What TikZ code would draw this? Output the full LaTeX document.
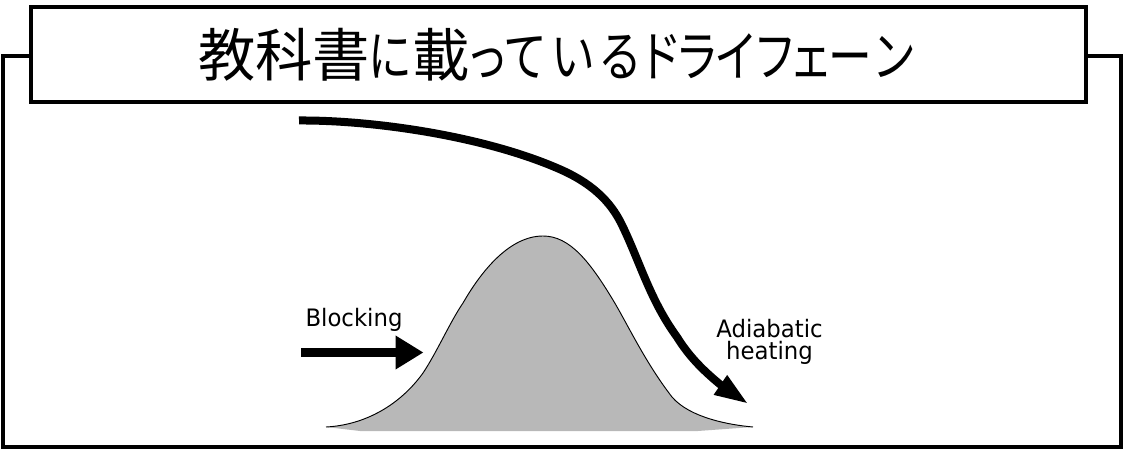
\documentclass[tikz,border=0pt]{standalone}
\usepackage{fontspec}
\setmainfont{DejaVu Sans}
\newfontfamily\kanjifont{Noto Sans CJK JP}
\newfontfamily\kanafont[FakeStretch=0.8]{Noto Sans CJK JP}
\newfontfamily\labelfont[FakeStretch=0.95]{DejaVu Sans}
\usetikzlibrary{arrows.meta}
\definecolor{ridge}{gray}{0.72}
\newlength{\pxunit}
\setlength{\pxunit}{0.75pt}
% one title glyph, centred in a cell of the given width
\newcommand{\kj}[2]{\makebox[#1\pxunit][c]{\kanjifont\fontsize{43pt}{46pt}\selectfont #2}}
\newcommand{\kn}[2]{\makebox[#1\pxunit][c]{\kanafont #2}}
\tikzset{
  framebox/.style={draw=black,line width=3pt,fill=white,line join=miter},
  titletext/.style={font=\fontsize{41pt}{46pt}\selectfont,text=black,inner sep=0pt},
  labeltext/.style={font=\labelfont\fontsize{18pt}{16.5pt}\selectfont,text=black,inner sep=0pt,align=center},
  flowline/.style={line width=6pt,-{Triangle[length=25.5pt,width=16pt]}},
  blockline/.style={line width=6.75pt,-{Triangle[length=21pt,width=24pt]}}
}
\begin{document}
\begin{tikzpicture}[x=0.75pt,y=-0.75pt]
\useasboundingbox (0,0) rectangle (1124,449);
% outer frame and title plate
\draw[framebox,fill=none] (3,447) -- (3,56) -- (1121,56) -- (1121,447) -- cycle;
\node[framebox,minimum width=791pt,minimum height=71.25pt,inner sep=0pt] (plate) at (558.2,54.5) {};
\node[titletext] (title) at (557,55) {\kj{56.5}{教}\kj{57}{科}\kj{57}{書}\kn{41.5}{に}\kj{60}{載}\kn{32.5}{っ}\kn{44.5}{て}\kn{51.5}{い}\kn{41.5}{る}\kn{38}{ド}\kn{37}{ラ}\kn{40.5}{イ}\kn{38.5}{フ}\kn{33}{ェ}\kn{45}{ー}\kn{42}{ン}};
% mountain: flat-based fill, then its outline
\fill[ridge] (326,427) -- (360,431) -- (698,431) -- (753,427)
  .. controls (730,425) and (690,418) .. (672,397)
  .. controls (645,362) and (628,325) .. (613,300)
  .. controls (590,262) and (570,236) .. (543,236)
  .. controls (510,236) and (482,270) .. (463,303)
  .. controls (450,322) and (437,352) .. (423,373)
  .. controls (400,405) and (365,425) .. (326,427) -- cycle;
\draw[black,line width=0.7pt]
  (326,427) .. controls (365,425) and (400,405) .. (423,373)
  .. controls (437,352) and (450,322) .. (463,303)
  .. controls (482,270) and (510,236) .. (543,236)
  .. controls (570,236) and (590,262) .. (613,300)
  .. controls (628,325) and (645,362) .. (672,397)
  .. controls (690,418) and (730,425) .. (753,427);
% airflow over the ridge
\coordinate (flowstart) at (299,120.5);
\coordinate (flowend) at (748.5,404);
\draw[flowline] (flowstart) .. controls (370,120) and (480,135) .. (557,168)
  .. controls (590,182) and (610,200) .. (622,225)
  .. controls (640,262) and (650,300) .. (677,337)
  .. controls (690,358) and (705,372) .. (722,386) -- (flowend);
% blocking arrow
\coordinate (blockstart) at (301,352.5);
\coordinate (blockend) at (423.5,352.5);
\draw[blockline] (blockstart) -- (blockend);
% labels
\node[labeltext] (blocking) at (354,320) {Blocking};
\node[labeltext] (adiabatic) at (769.5,342) {Adiabatic\\heating};
\end{tikzpicture}
\end{document}
